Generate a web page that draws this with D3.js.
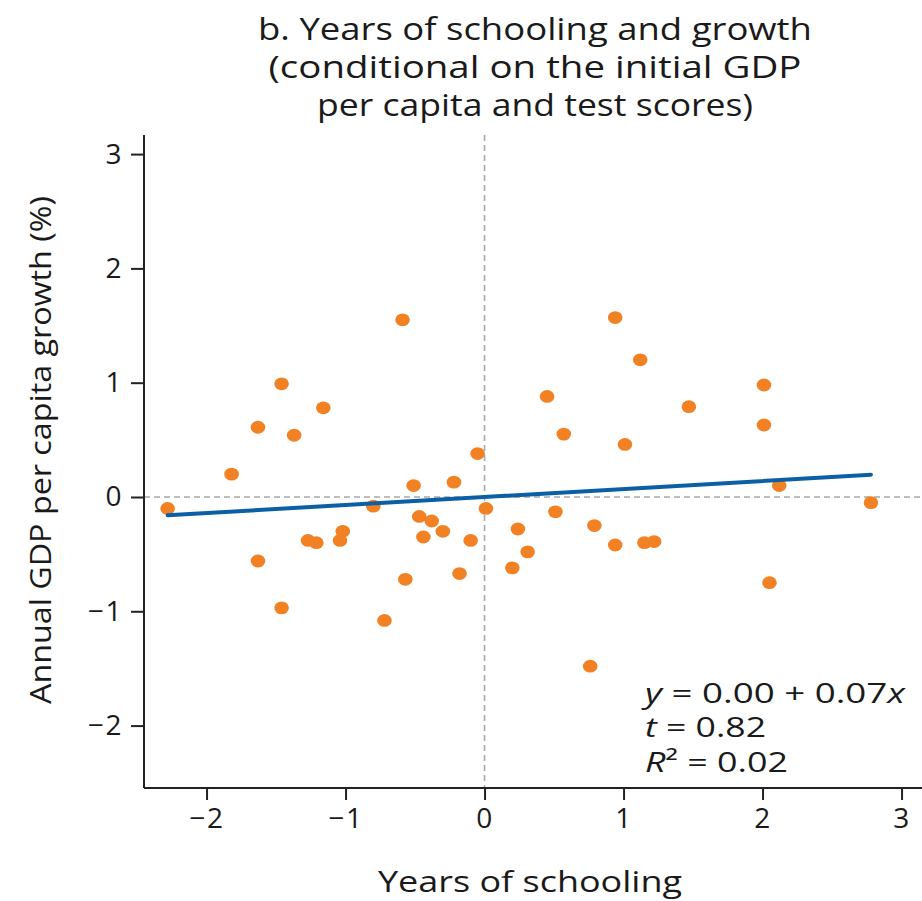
<!DOCTYPE html>
<html>
<head>
<meta charset="utf-8">
<script src="https://cdn.jsdelivr.net/npm/d3@7"></script>
<style>
  html, body { margin: 0; padding: 0; background: #fff; }
  svg { display: block; font-family: "Open Sans", Lato, sans-serif; }
</style>
</head>
<body>
<svg id="chart" width="922" height="901"></svg>
<script>
// Residual years of schooling (x) vs residual annual GDP per capita growth (y)
const schooling = [
  -2.28, -1.82, -1.63, -1.63, -1.46, -1.46, -1.37, -1.27, -1.21, -1.16,
  -1.04, -1.02, -0.80, -0.72, -0.59, -0.57, -0.51, -0.47, -0.44, -0.38,
  -0.30, -0.22, -0.18, -0.10, -0.05, 0.01, 0.20, 0.24, 0.31, 0.45,
  0.51, 0.57, 0.76, 0.79, 0.94, 0.94, 1.01, 1.12, 1.15, 1.22,
  1.47, 2.01, 2.01, 2.05, 2.12, 2.78
];
const growth = [
  -0.10, 0.20, 0.61, -0.56, 0.99, -0.97, 0.54, -0.38, -0.40, 0.78,
  -0.38, -0.30, -0.08, -1.08, 1.55, -0.72, 0.10, -0.17, -0.35, -0.21,
  -0.30, 0.13, -0.67, -0.38, 0.38, -0.10, -0.62, -0.28, -0.48, 0.88,
  -0.13, 0.55, -1.48, -0.25, 1.57, -0.42, 0.46, 1.20, -0.40, -0.39,
  0.79, 0.98, 0.63, -0.75, 0.10, -0.05
];
const xTicks = [-2, -1, 0, 1, 2, 3];
const yTicks = [-2, -1, 0, 1, 2, 3];
const titleLines = [
  "b. Years of schooling and growth",
  "(conditional on the initial GDP",
  "per capita and test scores)"
];
const fitIntercept = 0.00;
const fitSlope = 0.07;
const fitT = 0.82;
const fitR2 = 0.02;

const svg = d3.select("#chart");
const plotLeft = 144, plotBottom = 788, plotTop = 135, plotRight = 922;
const ink = "#1a1a1a";
const font = "'Open Sans', Lato, sans-serif";

const x = d3.scaleLinear().domain([-2.45, 3.15]).range([plotLeft, plotLeft + 5.6 * 139]);
const y = d3.scaleLinear().domain([-2.546, 3.167]).range([plotBottom, plotTop]);

const minus = s => String(s).replace("-", "\u2212");

// Wide geometric lettering: stretch each text run to a set width
function setWidth(sel, w) {
  sel.attr("textLength", w).attr("lengthAdjust", "spacingAndGlyphs");
  return sel;
}

// Title
const titleWidths = [554, 533, 436];
svg.append("g").selectAll("text").data(titleLines).join("text")
  .attr("x", 535).attr("y", (d, i) => 40 + i * 38)
  .attr("text-anchor", "middle")
  .attr("font-size", 31).attr("fill", ink)
  .attr("textLength", (d, i) => titleWidths[i]).attr("lengthAdjust", "spacingAndGlyphs")
  .text(d => d);

// Reference lines at zero
svg.append("line")
  .attr("x1", x(0)).attr("x2", x(0)).attr("y1", plotTop).attr("y2", plotBottom)
  .attr("stroke", "#a8a8a8").attr("stroke-width", 1.6).attr("stroke-dasharray", "6,4");
svg.append("line")
  .attr("x1", plotLeft).attr("x2", plotRight).attr("y1", y(0)).attr("y2", y(0))
  .attr("stroke", "#a8a8a8").attr("stroke-width", 1.6).attr("stroke-dasharray", "6,4");

// Axes
const xAxis = svg.append("g").attr("transform", `translate(0,${plotBottom})`)
  .call(d3.axisBottom(x).tickValues(xTicks).tickSize(12).tickPadding(8).tickFormat(minus));
const yAxis = svg.append("g").attr("transform", `translate(${plotLeft},0)`)
  .call(d3.axisLeft(y).tickValues(yTicks).tickSize(13).tickPadding(8).tickFormat(minus));
[xAxis, yAxis].forEach(g => {
  g.select(".domain").remove();
  g.selectAll(".tick line").attr("stroke", "#222").attr("stroke-width", 2);
  g.selectAll(".tick text").attr("font-size", 28)
    .attr("letter-spacing", 1.5).attr("fill", ink).attr("font-family", font);
});
svg.append("line").attr("x1", plotLeft).attr("x2", plotRight).attr("y1", plotBottom).attr("y2", plotBottom)
  .attr("stroke", "#222").attr("stroke-width", 2);
svg.append("line").attr("x1", plotLeft).attr("x2", plotLeft).attr("y1", plotTop).attr("y2", plotBottom)
  .attr("stroke", "#222").attr("stroke-width", 2);

// Axis titles
setWidth(svg.append("text")
  .attr("x", 530).attr("y", 892).attr("text-anchor", "middle")
  .attr("font-size", 30).attr("fill", ink)
  .text("Years of schooling"), 304);
setWidth(svg.append("text")
  .attr("transform", `translate(51,${450}) rotate(-90)`)
  .attr("text-anchor", "middle")
  .attr("font-size", 30).attr("fill", ink)
  .text("Annual GDP per capita growth (%)"), 508);

// Points
const pts = schooling.map((v, i) => ({ x: v, y: growth[i] }));
svg.append("g").selectAll("ellipse").data(pts).join("ellipse")
  .attr("cx", d => x(d.x)).attr("cy", d => y(d.y))
  .attr("rx", 7.3).attr("ry", 6.4)
  .attr("fill", "#f28124");

// Fitted line over the range of the data
const [xmin, xmax] = d3.extent(schooling);
svg.append("line")
  .attr("x1", x(xmin)).attr("y1", y(fitIntercept + fitSlope * xmin))
  .attr("x2", x(xmax)).attr("y2", y(fitIntercept + fitSlope * xmax))
  .attr("stroke", "#0b5fa5").attr("stroke-width", 4).attr("stroke-linecap", "round");

// Regression statistics
const ann = svg.append("g").attr("font-size", 28).attr("fill", ink);
const l1 = setWidth(ann.append("text").attr("x", 645).attr("y", 703), 260);
l1.append("tspan").attr("font-style", "italic").text("y");
l1.append("tspan").text(` = ${fitIntercept.toFixed(2)} + ${fitSlope.toFixed(2)}`);
l1.append("tspan").attr("font-style", "italic").text("x");
const l2 = setWidth(ann.append("text").attr("x", 645).attr("y", 737), 121);
l2.append("tspan").attr("font-style", "italic").text("t");
l2.append("tspan").text(` = ${fitT.toFixed(2)}`);
const l3 = setWidth(ann.append("text").attr("x", 645).attr("y", 772), 143);
l3.append("tspan").attr("font-style", "italic").text("R");
l3.append("tspan").text("\u00B2");
l3.append("tspan").text(` = ${fitR2.toFixed(2)}`);
</script>
</body>
</html>
